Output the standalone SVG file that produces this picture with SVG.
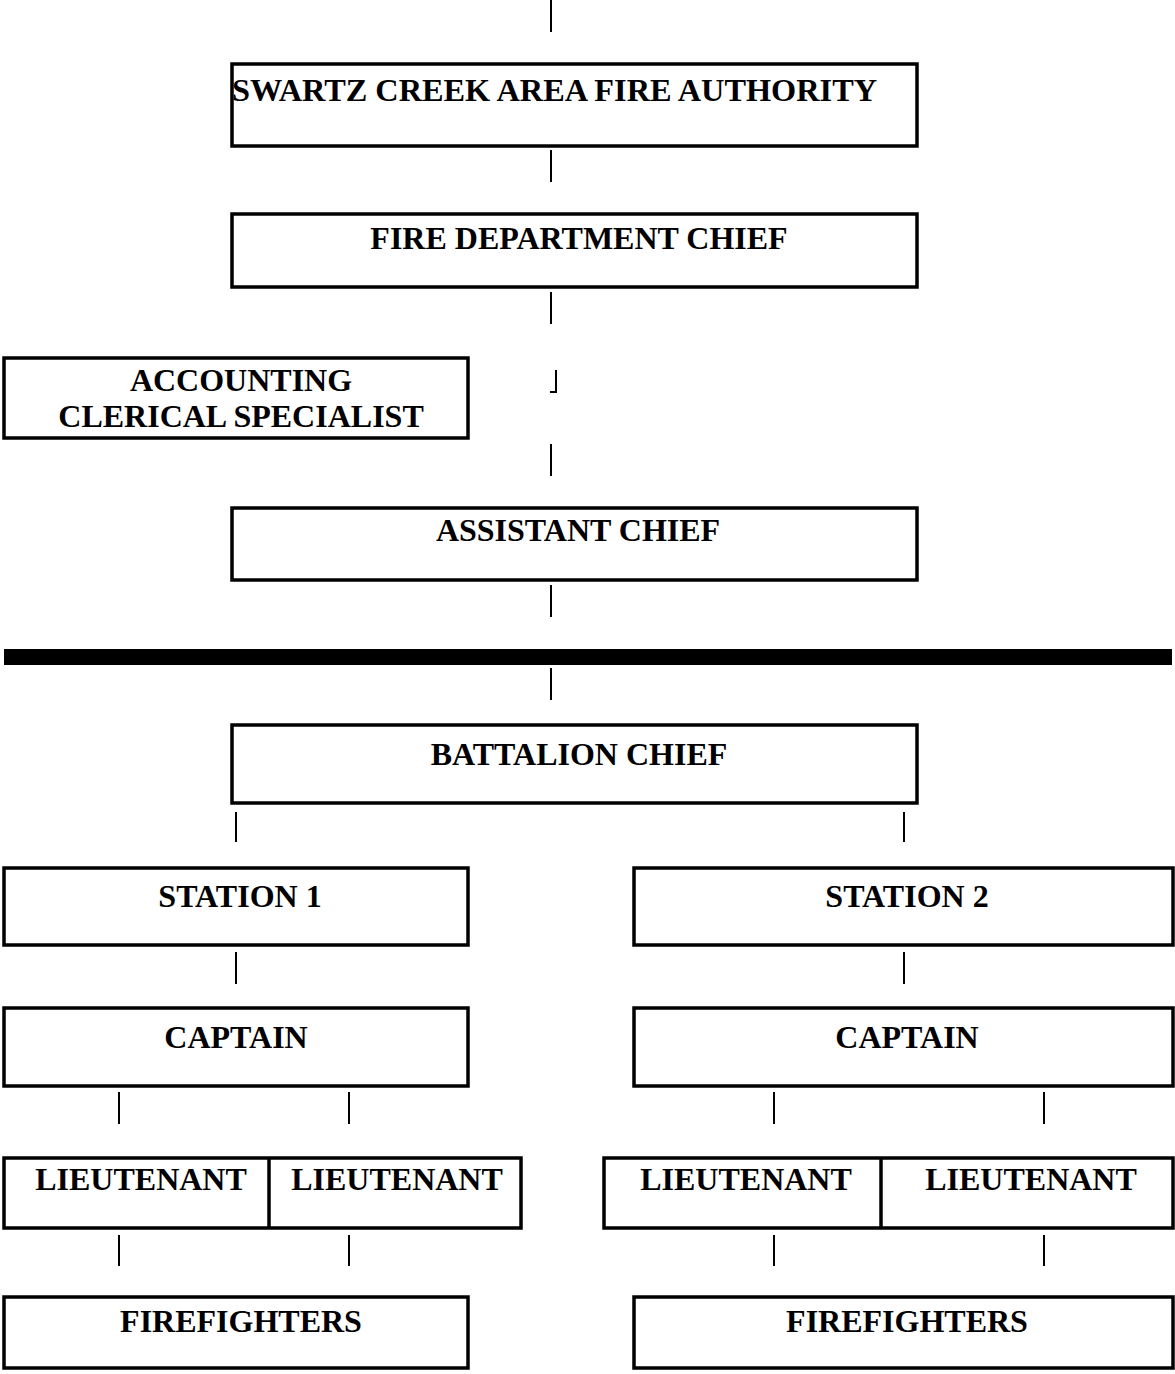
<svg xmlns="http://www.w3.org/2000/svg" width="1175" height="1374" viewBox="0 0 1175 1374">
<style>
.box{fill:#fff;stroke:#000;stroke-width:3.5}
.t{font-family:"Liberation Serif","Times New Roman",serif;font-weight:bold;font-size:32px;fill:#000;text-anchor:middle}
.c{stroke:#000;stroke-width:2;fill:none}
</style>
<rect width="1175" height="1374" fill="#fff"/>
<g id="connectors">
<line class="c" x1="551" y1="0" x2="551" y2="32"/>
<line class="c" x1="551" y1="150" x2="551" y2="182"/>
<line class="c" x1="551" y1="292" x2="551" y2="324"/>
<path class="c" d="M556 370 V392 H550"/>
<line class="c" x1="551" y1="444" x2="551" y2="476"/>
<line class="c" x1="551" y1="585" x2="551" y2="617"/>
<rect x="4" y="649" width="1168" height="16" fill="#000"/>
<line class="c" x1="551" y1="668" x2="551" y2="700"/>
<line class="c" x1="236" y1="812" x2="236" y2="842"/>
<line class="c" x1="904" y1="812" x2="904" y2="842"/>
<line class="c" x1="236" y1="952" x2="236" y2="984"/>
<line class="c" x1="904" y1="952" x2="904" y2="984"/>
<line class="c" x1="119" y1="1092" x2="119" y2="1124"/>
<line class="c" x1="349" y1="1092" x2="349" y2="1124"/>
<line class="c" x1="774" y1="1092" x2="774" y2="1124"/>
<line class="c" x1="1044" y1="1092" x2="1044" y2="1124"/>
<line class="c" x1="119" y1="1235" x2="119" y2="1266"/>
<line class="c" x1="349" y1="1235" x2="349" y2="1266"/>
<line class="c" x1="774" y1="1235" x2="774" y2="1266"/>
<line class="c" x1="1044" y1="1235" x2="1044" y2="1266"/>
</g>
<g id="authority"><rect class="box" x="232" y="64" width="685" height="82"/><text class="t" x="232" y="101" style="text-anchor:start" textLength="645" lengthAdjust="spacingAndGlyphs">SWARTZ CREEK AREA FIRE AUTHORITY</text></g>
<g id="chief"><rect class="box" x="232" y="214" width="685" height="73"/><text class="t" x="579" y="249">FIRE DEPARTMENT CHIEF</text></g>
<g id="accounting"><rect class="box" x="4" y="358" width="464" height="80"/><text class="t" x="241" y="391">ACCOUNTING</text><text class="t" x="241" y="427">CLERICAL SPECIALIST</text></g>
<g id="assistant"><rect class="box" x="232" y="508" width="685" height="72"/><text class="t" x="578" y="541">ASSISTANT CHIEF</text></g>
<g id="battalion"><rect class="box" x="232" y="725" width="685" height="78"/><text class="t" x="579" y="765">BATTALION CHIEF</text></g>
<g id="station1"><rect class="box" x="4" y="868" width="464" height="77"/><text class="t" x="240" y="907">STATION 1</text></g>
<g id="station2"><rect class="box" x="634" y="868" width="539" height="77"/><text class="t" x="907" y="907">STATION 2</text></g>
<g id="captain1"><rect class="box" x="4" y="1008" width="464" height="78"/><text class="t" x="236" y="1048">CAPTAIN</text></g>
<g id="captain2"><rect class="box" x="634" y="1008" width="539" height="78"/><text class="t" x="907" y="1048">CAPTAIN</text></g>
<g id="lieutenants1"><rect class="box" x="4" y="1158" width="517" height="70"/><line x1="269" y1="1158" x2="269" y2="1228" stroke="#000" stroke-width="3.5"/><text class="t" x="141" y="1190">LIEUTENANT</text><text class="t" x="397" y="1190">LIEUTENANT</text></g>
<g id="lieutenants2"><rect class="box" x="604" y="1158" width="569" height="70"/><line x1="881" y1="1158" x2="881" y2="1228" stroke="#000" stroke-width="3.5"/><text class="t" x="746" y="1190">LIEUTENANT</text><text class="t" x="1031" y="1190">LIEUTENANT</text></g>
<g id="firefighters1"><rect class="box" x="4" y="1297" width="464" height="71"/><text class="t" x="241" y="1332">FIREFIGHTERS</text></g>
<g id="firefighters2"><rect class="box" x="634" y="1297" width="539" height="71"/><text class="t" x="907" y="1332">FIREFIGHTERS</text></g>
</svg>
